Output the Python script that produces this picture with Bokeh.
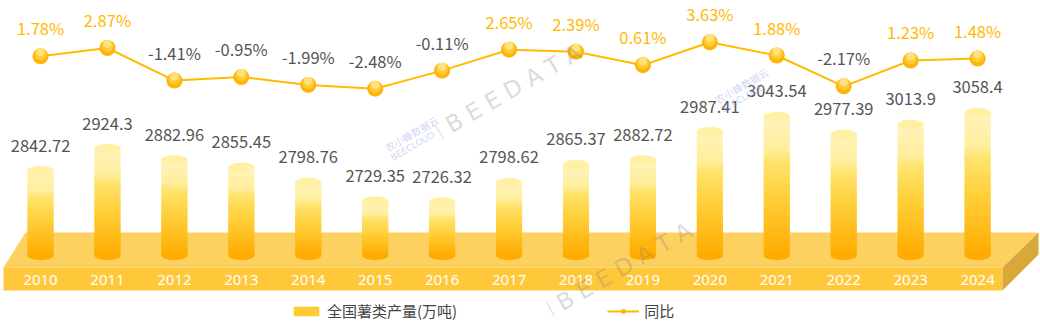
import numpy as np
from bokeh.plotting import figure
from bokeh.models import Range1d, ColumnDataSource, Legend, LegendItem
from bokeh.core.properties import value
from bokeh.embed import file_html
from bokeh.resources import INLINE

# ---------------- data ----------------
years = ["2010", "2011", "2012", "2013", "2014", "2015", "2016", "2017",
         "2018", "2019", "2020", "2021", "2022", "2023", "2024"]
production = [2842.72, 2924.3, 2882.96, 2855.45, 2798.76, 2729.35, 2726.32,
              2798.62, 2865.37, 2882.72, 2987.41, 3043.54, 2977.39, 3013.9, 3058.4]
yoy = [1.78, 2.87, -1.41, -0.95, -1.99, -2.48, -0.11, 2.65, 2.39, 0.61,
       3.63, 1.88, -2.17, 1.23, 1.48]
bar_label = "全国薯类产量(万吨)"
line_label = "同比"

FONT = "Noto Sans CJK SC"
W, H = 1040, 325

idx = list(range(len(years)))
bar_base = 2527.0
bar_w = 0.39

p = figure(width=W, height=H, output_backend="svg", toolbar_location=None,
           x_range=Range1d(-0.598, 14.94), y_range=Range1d(2267.6, 3473.5),
           x_axis_location=None, y_axis_location=None, min_border=0)
p.min_border_left = p.min_border_right = p.min_border_top = p.min_border_bottom = 0
p.outline_line_color = None
p.grid.visible = False
p.background_fill_color = "white"
p.border_fill_color = "white"
p.extra_x_ranges = {"px": Range1d(0, W)}
p.extra_y_ranges = {"px": Range1d(H, 0), "pct": Range1d(-33.64, 9.12)}

# ---------------- platform (decoration) ----------------
p.patch(x=[25, 1038, 1002, 3], y=[232, 232, 267, 267], x_range_name="px", y_range_name="px",
        fill_color="#FDD160", line_color=None)
p.patch(x=[3, 1002, 1002, 3], y=[267, 267, 290, 290], x_range_name="px", y_range_name="px",
        fill_color="#FFC83B", line_color=None)
p.patch(x=[1002, 1038, 1038, 1002], y=[267, 232, 254, 290], x_range_name="px", y_range_name="px",
        fill_color="#D8A93A", line_color=None)

# ---------------- bars (gradient cylinders) ----------------
stops_t = [0.0, 0.45, 0.68, 0.76, 1.0]
stops_c = ["#FFAB00", "#FFD23F", "#FFE36E", "#FFEE9C", "#FFF4BC"]


def hex2rgb(h):
    return np.array([int(h[i:i + 2], 16) for i in (1, 3, 5)], dtype=float)


def color_at(t):
    for j in range(len(stops_t) - 1):
        if stops_t[j] <= t <= stops_t[j + 1]:
            f = (t - stops_t[j]) / (stops_t[j + 1] - stops_t[j])
            c = hex2rgb(stops_c[j]) * (1 - f) + hex2rgb(stops_c[j + 1]) * f
            return "#%02x%02x%02x" % tuple(int(round(v)) for v in c)
    return stops_c[-1]


N = 40
sx, sb, st, sc = [], [], [], []
for i, v in zip(idx, production):
    for k in range(N):
        t0 = k / N
        t1 = min(1.0, (k + 1.6) / N)
        sx.append(i)
        sb.append(bar_base + (v - bar_base) * t0)
        st.append(bar_base + (v - bar_base) * t1)
        sc.append(color_at((k + 0.5) / N))
bar_src = ColumnDataSource(dict(x=sx, bottom=sb, top=st, color=sc))

p.ellipse(x=idx, y=[bar_base] * len(idx), width=bar_w, height=9, height_units="screen",
          fill_color="#FFAB00", line_color=None)
bar_r = p.vbar(x="x", bottom="bottom", top="top", width=bar_w, fill_color="color",
               line_color=None, source=bar_src)
p.ellipse(x=idx, y=production, width=bar_w, height=9, height_units="screen",
          fill_color="#FFF0A4", line_color=None)

# year labels on platform front
p.text(x=idx, y=[279] * len(idx), y_range_name="px", text=years,
       text_font=value("Noto Sans"), text_font_size="15px", text_color="white",
       text_align="center", text_baseline="middle")

# value labels
p.text(x=idx, y=production, text=[str(v) for v in production], y_offset=-25,
       text_font=value(FONT), text_font_size="16.5px", text_color="#555555",
       text_align="center", text_baseline="middle")

# ---------------- YoY line ----------------
line_r = p.line(x=idx, y=yoy, y_range_name="pct", line_color="#FFBB00", line_width=2)
dot_r = p.scatter(x=idx, y=yoy, y_range_name="pct", size=16, fill_color="#FFB40A", line_color=None)
p.scatter(x=idx, y=[v + 0.26 for v in yoy], y_range_name="pct", size=12,
          fill_color="#FFCC38", line_color=None)
p.scatter(x=idx, y=[v + 0.52 for v in yoy], y_range_name="pct", size=8,
          fill_color="#FFE27C", line_color=None)

pct_src = ColumnDataSource(dict(
    x=idx, y=yoy, t=["%.2f%%" % v for v in yoy],
    c=["#FFB800" if v >= 0 else "#555555" for v in yoy]))
p.text(x="x", y="y", text="t", source=pct_src, y_range_name="pct", y_offset=-28,
       text_font=value(FONT), text_font_size="16.5px", text_color="c",
       text_align="center", text_baseline="middle")

# ---------------- watermarks (on top, translucent) ----------------
wm_x = [447, 558]
wm_y = [126, 304]
p.text(x=wm_x, y=wm_y, text=["B E E D A T A"] * len(wm_x), x_range_name="px", y_range_name="px",
       angle=0.5236, text_font=value("DejaVu Sans"), text_font_size="23px",
       text_color="#808080", text_alpha=0.3, text_align="left", text_baseline="middle")
p.text(x=[436, 547], y=[132, 309], text=["|", "|"], x_range_name="px", y_range_name="px",
       angle=0.5236, text_font=value("DejaVu Sans"), text_font_size="16px",
       text_color="#909090", text_alpha=0.25, text_align="left", text_baseline="middle")
bl_x = [385, 715]
bl_y = [148, 100]
p.text(x=bl_x, y=bl_y, text=["农小蜂数据云"] * len(bl_x), x_range_name="px", y_range_name="px",
       angle=0.5236, text_font=value(FONT), text_font_size="10px",
       text_color="#8090e0", text_alpha=0.4, text_align="left", text_baseline="middle")
p.text(x=[x + 6 for x in bl_x], y=[y + 10 for y in bl_y], text=["BEECLOUD"] * len(bl_x),
       x_range_name="px", y_range_name="px",
       angle=0.5236, text_font=value("DejaVu Sans"), text_font_size="9px",
       text_color="#8090e0", text_alpha=0.4, text_align="left", text_baseline="middle")

# ---------------- legend ----------------
legend = Legend(items=[LegendItem(label=bar_label, renderers=[bar_r], index=int(N * 0.35)),
                       LegendItem(label=line_label, renderers=[line_r, dot_r])],
                orientation="horizontal", location=(290, 4), spacing=150,
                glyph_width=32, glyph_height=12, label_standoff=5, padding=0, margin=0,
                border_line_color=None, background_fill_alpha=0,
                label_text_font=FONT, label_text_font_size="15px",
                label_text_color="#444444", label_height=20)
p.add_layout(legend)

open("out.html", "w").write(file_html(p, INLINE))
